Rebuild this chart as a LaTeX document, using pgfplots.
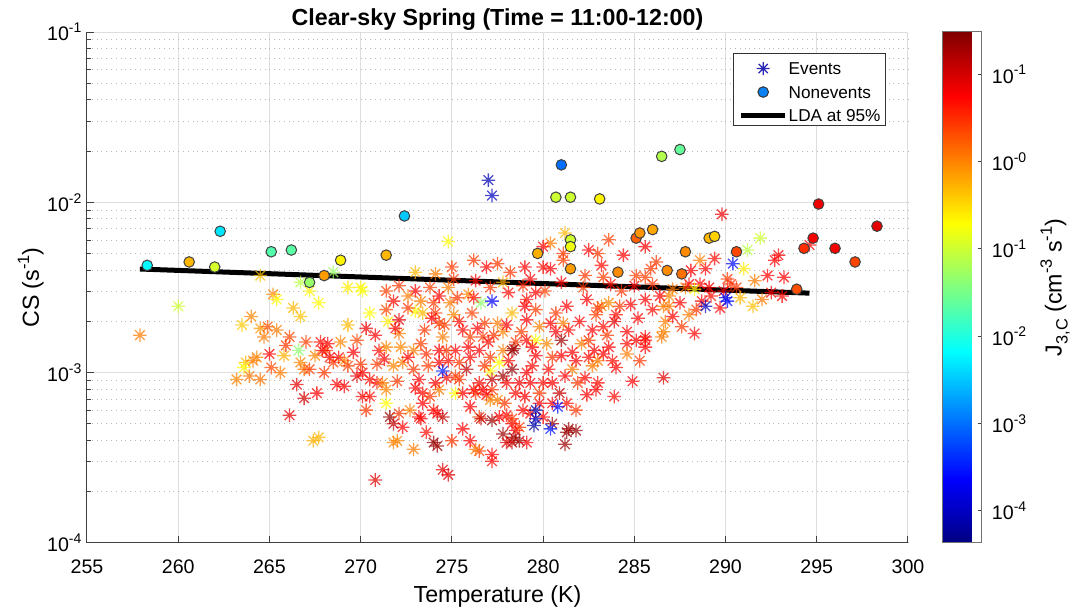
\documentclass[border=0pt]{standalone}
\usepackage{fontspec}
\setmainfont{Liberation Sans}
\usepackage{pgfplots}
\usepackage{pgfplotstable}
\pgfplotsset{compat=1.18}

% superscripts / subscripts in the MATLAB look
\newcommand\sups[1]{\raisebox{0.42em}{\fontsize{7}{8}\selectfont #1}}
\newcommand\lsups[1]{\raisebox{0.42em}{\fontsize{8.2}{9}\selectfont #1}}
\newcommand\lsubs[1]{\raisebox{-0.25em}{\fontsize{8.2}{9}\selectfont #1}}

% eight-armed asterisk (plus and cross)
\pgfdeclareplotmark{mstar}{%
  \pgfpathmoveto{\pgfqpoint{-\pgfplotmarksize}{0pt}}%
  \pgfpathlineto{\pgfqpoint{\pgfplotmarksize}{0pt}}%
  \pgfpathmoveto{\pgfqpoint{0pt}{-\pgfplotmarksize}}%
  \pgfpathlineto{\pgfqpoint{0pt}{\pgfplotmarksize}}%
  \pgfpathmoveto{\pgfqpoint{-0.7071\pgfplotmarksize}{-0.7071\pgfplotmarksize}}%
  \pgfpathlineto{\pgfqpoint{0.7071\pgfplotmarksize}{0.7071\pgfplotmarksize}}%
  \pgfpathmoveto{\pgfqpoint{-0.7071\pgfplotmarksize}{0.7071\pgfplotmarksize}}%
  \pgfpathlineto{\pgfqpoint{0.7071\pgfplotmarksize}{-0.7071\pgfplotmarksize}}%
  \pgfusepathqstroke}

\definecolor{evblue}{RGB}{40,40,180}
\definecolor{nevblue}{RGB}{10,130,245}

% T: temperature (K), l: log10(CS / s^-1), m: log10(J_3,C / cm^-3 s^-1)
\pgfplotstableread{
T l m
257.9 -2.78 0.05
260.0 -2.61 -1.0
264.5 -2.43 -0.35
265.2 -2.54 0.0
265.4 -2.57 -0.7
266.7 -2.47 -1.1
267.2 -2.52 -0.65
267.7 -2.59 -0.7
268.5 -2.41 -1.3
266.7 -2.67 -0.35
264.0 -2.67 0.0
263.5 -2.72 -0.4
264.5 -2.74 -0.1
264.9 -2.73 0.3
264.7 -2.79 0.05
266.1 -2.79 0.35
267.0 -2.82 0.4
266.6 -2.87 -1.35
267.8 -2.82 0.7
268.2 -2.83 0.75
268.1 -2.87 0.4
268.3 -2.91 0.8
268.9 -2.82 0.0
269.3 -2.72 -0.3
269.8 -2.81 0.35
270.3 -2.74 0.85
270.5 -2.65 -0.7
269.3 -2.50 -0.6
270.0 -2.50 -0.65
270.1 -2.52 -0.75
271.4 -2.52 0.4
271.8 -2.58 0.7
271.4 -2.63 0.35
271.5 -2.70 -0.6
271.0 -2.87 0.7
271.4 -2.85 0.0
263.7 -2.94 -0.3
263.6 -2.97 -0.7
264.1 -2.93 0.05
263.2 -3.04 0.0
263.9 -3.02 0.1
264.5 -3.04 0.1
265.0 -2.89 0.75
265.1 -2.97 0.35
265.6 -3.00 0.05
265.8 -2.90 -0.25
266.7 -2.94 0.0
266.9 -2.98 0.1
267.2 -2.98 0.4
266.5 -3.07 0.9
266.9 -3.15 1.0
266.1 -3.25 0.9
267.4 -3.40 -0.25
267.7 -3.38 -0.3
268.5 -2.94 0.4
268.8 -2.91 0.7
269.1 -2.93 0.05
269.3 -2.96 0.4
268.7 -3.07 0.75
269.8 -3.02 0.9
270.1 -3.00 0.75
270.5 -3.04 0.7
270.9 -3.06 0.7
271.2 -3.06 0.05
270.1 -3.14 0.75
270.5 -3.14 0.7
270.3 -3.22 0.45
271.4 -3.10 0.0
271.4 -3.18 -0.7
271.6 -3.26 1.35
271.8 -3.41 0.0
270.8 -3.63 0.9
264.3 -2.91 0.0
267.9 -2.87 0.75
267.5 -2.90 0.0
274.8 -2.23 -0.7
276.2 -2.34 0.45
276.9 -2.38 0.75
275.0 -2.38 0.4
273.0 -2.41 -0.3
272.1 -2.49 0.45
273.8 -2.50 0.4
274.8 -2.50 0.05
275.9 -2.54 0.0
277.1 -2.50 0.45
277.8 -2.47 -0.25
278.1 -2.53 0.7
278.9 -2.49 0.5
279.6 -2.53 0.75
280.0 -2.38 0.7
280.4 -2.24 0.05
281.2 -2.18 -0.3
280.0 -2.26 0.75
281.1 -2.30 0.45
281.1 -2.34 0.4
282.5 -2.28 0.75
283.6 -2.22 0.4
283.2 -2.37 0.7
282.3 -2.43 0.45
283.3 -2.44 0.4
285.1 -2.43 0.4
285.6 -2.26 0.75
272.1 -2.69 0.9
273.3 -2.58 0.05
273.0 -2.64 -0.7
273.4 -2.65 -0.3
274.0 -2.59 0.4
274.1 -2.65 0.45
274.9 -2.59 0.05
275.1 -2.66 0.0
276.1 -2.65 0.4
276.6 -2.59 -1.35
277.5 -2.71 0.05
277.8 -2.76 0.0
276.8 -2.71 0.4
276.7 -2.79 0.45
275.6 -2.75 0.7
276.0 -2.79 0.4
274.3 -2.71 0.4
274.5 -2.79 0.05
274.3 -2.87 0.75
273.5 -2.75 0.45
273.3 -2.83 0.4
273.6 -2.89 0.5
272.1 -2.77 0.05
272.2 -2.85 0.0
271.3 -2.92 0.75
272.9 -2.87 0.05
275.2 -2.87 0.75
275.4 -2.94 0.45
276.0 -2.91 0.7
275.8 -2.98 1.1
276.5 -2.87 0.75
277.1 -2.91 0.45
277.8 -2.87 0.05
277.6 -2.94 -0.7
278.3 -2.87 1.35
278.5 -2.82 0.45
279.1 -2.81 0.75
279.6 -2.81 -0.7
279.8 -2.73 0.05
279.1 -2.69 0.75
279.6 -2.63 0.4
280.4 -2.71 0.75
280.7 -2.65 0.45
281.3 -2.61 0.75
281.1 -2.71 0.05
281.4 -2.75 0.7
280.7 -2.76 0.75
280.2 -2.83 0.0
281.0 -2.81 1.3
281.0 -2.90 0.75
280.5 -2.91 0.45
282.1 -2.83 0.05
282.5 -2.81 0.45
282.8 -2.87 0.75
283.0 -2.93 0.05
282.7 -2.75 0.75
283.3 -2.73 0.7
282.4 -2.57 0.75
283.2 -2.61 0.05
283.6 -2.59 0.0
284.2 -2.61 0.45
284.8 -2.60 0.75
285.6 -2.57 0.75
286.0 -2.63 0.7
286.6 -2.61 0.05
283.9 -2.70 0.9
284.6 -2.76 0.75
284.6 -2.83 0.7
285.1 -2.81 0.75
285.6 -2.81 0.7
284.6 -2.89 0.05
286.6 -2.76 0.0
286.7 -2.70 0.05
287.1 -2.67 0.75
286.6 -3.03 0.9
283.6 -2.85 0.75
283.8 -2.93 0.7
283.3 -2.89 0.75
282.3 -3.03 0.75
283.0 -3.06 0.7
282.9 -3.10 0.8
282.4 -3.13 0.75
281.6 -2.98 0.05
281.2 -3.02 0.75
280.5 -3.06 0.75
280.0 -3.06 0.7
279.8 -3.12 0.45
280.5 -3.18 0.75
281.3 -3.18 0.7
279.6 -2.90 0.75
279.4 -2.96 0.7
279.1 -3.00 0.75
278.7 -3.06 0.8
279.3 -3.06 0.75
278.5 -3.12 0.7
278.3 -2.98 1.35
278.0 -3.06 0.75
277.2 -3.10 0.45
276.9 -3.13 0.75
276.5 -3.06 0.7
276.3 -3.12 0.45
277.5 -3.16 0.05
277.1 -3.16 0.0
276.5 -3.26 0.45
277.2 -3.28 1.35
277.8 -3.36 1.3
278.0 -3.41 0.95
278.5 -3.34 0.75
278.7 -3.40 1.35
279.1 -3.41 0.75
278.7 -3.32 0.45
278.3 -3.30 0.75
281.3 -3.35 1.35
281.2 -3.42 1.3
280.5 -3.30 1.3
279.8 -3.18 0.75
279.3 -3.24 0.7
276.5 -3.46 0.45
277.2 -3.48 0.75
277.2 -3.52 0.7
274.5 -3.57 0.9
274.8 -3.60 0.9
274.0 -3.41 1.35
274.2 -3.43 1.3
272.9 -3.45 0.05
272.0 -3.40 0.0
273.2 -3.26 0.75
272.7 -3.22 0.05
272.1 -3.24 0.45
272.3 -3.32 0.75
271.8 -3.30 1.1
273.4 -3.18 0.75
274.0 -3.22 0.7
274.2 -3.24 0.75
274.5 -3.26 1.1
275.2 -3.12 -0.7
275.6 -3.12 0.75
276.2 -3.10 0.7
276.7 -3.10 0.75
275.4 -3.04 0.45
275.2 -3.02 0.4
272.9 -2.98 0.45
272.3 -2.94 0.05
271.8 -2.96 0.0
273.2 -3.04 0.75
273.4 -3.12 0.7
273.8 -3.14 0.45
274.3 -3.10 0.05
274.1 -3.06 0.75
274.3 -2.94 0.75
274.7 -2.87 0.45
277.1 -2.99 -0.7
277.2 -3.04 1.1
277.8 -3.02 1.3
278.4 -2.86 1.3
276.6 -3.27 1.1
277.6 -3.26 0.75
278.0 -3.25 0.7
278.3 -3.27 0.45
278.4 -3.38 1.35
278.3 -3.41 1.1
276.3 -3.45 0.05
273.3 -3.27 0.75
281.4 -3.33 1.3
281.8 -3.34 1.35
281.8 -2.93 0.75
282.5 -2.91 0.7
282.7 -2.96 0.05
285.6 -2.85 0.75
280.4 -2.39 0.75
279.0 -2.61 0.75
279.1 -2.57 0.7
278.3 -2.65 -0.3
283.0 -2.62 0.45
289.8 -2.07 0.85
288.6 -2.34 0.05
288.9 -2.39 0.75
285.9 -2.39 0.45
285.6 -2.44 0.4
286.0 -2.48 0.45
291.0 -2.39 -0.6
291.2 -2.28 -1.1
291.9 -2.21 -1.0
292.9 -2.31 0.8
292.7 -2.34 0.75
293.2 -2.44 0.75
294.6 -2.25 0.75
290.1 -2.45 0.45
290.3 -2.48 0.5
290.6 -2.50 0.45
290.8 -2.56 -0.3
291.5 -2.61 -0.35
292.0 -2.57 0.05
292.5 -2.53 0.75
293.1 -2.55 0.75
288.6 -2.48 0.75
289.1 -2.50 0.75
289.2 -2.55 0.7
287.8 -2.50 0.05
288.0 -2.48 0.75
288.3 -2.51 -0.7
287.1 -2.51 0.05
286.9 -2.55 0.0
286.4 -2.55 0.75
286.9 -2.61 0.05
288.0 -2.66 0.05
288.4 -2.63 0.45
289.7 -2.62 0.75
288.7 -2.58 0.75
288.3 -2.77 0.75
286.5 -2.79 0.05
285.6 -2.79 0.7
272.6 -2.62 0.45
273.9 -2.68 0.75
274.6 -2.72 0.4
275.4 -2.70 0.7
276.4 -2.74 0.75
277.3 -2.78 0.45
278.0 -2.72 0.75
278.8 -2.76 0.4
279.4 -2.85 0.75
278.1 -2.93 0.7
276.8 -2.96 0.45
275.9 -2.85 0.75
274.8 -2.93 0.7
273.7 -2.96 0.4
272.6 -2.91 0.75
272.0 -3.05 0.45
273.0 -3.09 0.75
274.7 -3.03 0.7
276.0 -3.20 0.75
277.9 -3.18 0.45
279.0 -3.14 0.75
280.3 -2.98 0.7
281.9 -3.06 0.45
282.0 -2.70 0.75
282.9 -2.66 0.4
284.0 -2.66 0.7
285.2 -2.68 0.75
284.3 -2.52 0.45
285.0 -2.49 0.75
283.7 -2.48 0.7
282.2 -2.50 0.45
281.0 -2.47 0.75
280.1 -2.52 0.4
279.3 -2.45 0.75
278.2 -2.41 0.45
276.3 -2.46 0.7
275.1 -2.45 0.45
274.1 -2.42 0.05
273.0 -2.52 0.75
272.6 -2.55 0.05
269.6 -2.88 0.75
270.0 -2.95 0.45
269.1 -3.08 0.75
268.0 -3.00 0.45
267.6 -3.12 0.75
265.9 -2.84 0.45
265.4 -2.75 0.05
266.3 -2.62 -0.3
270.8 -2.78 0.75
270.9 -2.95 0.45
271.9 -2.74 0.75
284.0 -2.97 0.75
285.3 -2.93 0.45
284.9 -3.05 0.75
283.9 -3.14 0.7
280.9 -3.12 1.1
280.0 -3.26 0.75
281.8 -3.22 0.45
278.9 -3.22 0.75
275.6 -3.33 0.75
275.0 -3.40 0.45
276.0 -3.40 0.75
273.6 -3.35 0.7
287.5 -2.59 0.75
287.6 -2.73 0.45
289.9 -2.52 0.75
291.6 -2.46 0.05
292.3 -2.43 0.75
286.2 -2.35 0.45
284.4 -2.31 0.75
283.0 -2.30 0.45
279.0 -2.38 0.75
277.5 -2.36 0.45
288.1 -2.40 0.75
289.4 -2.33 0.7
274.3 -2.55 0.75
275.3 -2.56 0.45
276.2 -2.56 0.7
283.5 -2.78 0.45
281.6 -2.88 0.75
277.0 -2.82 0.7
277.0 -1.87 -4.1
277.2 -1.96 -4.0
277.2 -2.58 -3.7
274.5 -2.99 -3.5
279.6 -3.22 -4.1
280.8 -3.20 -3.6
279.5 -3.31 -4.2
280.4 -3.33 -3.5
279.6 -3.27 -4.0
290.4 -2.36 -3.6
290.0 -2.56 -3.8
290.1 -2.58 -3.6
288.9 -2.61 -4.0
}\events

\pgfplotstableread{
T l m
258.3 -2.37 -2.2
260.6 -2.35 -0.3
262.0 -2.38 -0.95
262.3 -2.17 -2.32
265.1 -2.29 -1.7
266.2 -2.28 -1.65
267.2 -2.47 -1.3
268.0 -2.43 -0.15
268.9 -2.34 -0.65
271.4 -2.31 -0.3
272.4 -2.08 -2.49
279.7 -2.30 -0.25
281.5 -2.22 -1.0
281.5 -2.26 -0.8
281.5 -2.39 -0.15
284.1 -2.41 -0.05
285.1 -2.21 0.2
285.3 -2.18 -0.1
286.0 -2.16 -0.2
289.1 -2.21 -0.3
289.4 -2.20 -0.45
287.8 -2.29 -0.05
286.8 -2.40 -0.05
287.6 -2.42 0.1
290.6 -2.29 0.35
293.9 -2.51 0.3
294.3 -2.27 0.5
294.8 -2.21 0.8
295.1 -2.01 0.85
296.0 -2.27 0.8
297.1 -2.35 0.35
298.3 -2.14 0.9
281.0 -1.78 -3.0
280.7 -1.97 -1.0
281.5 -1.97 -1.0
283.1 -1.98 -0.65
286.5 -1.73 -1.15
287.5 -1.69 -1.6
}\nonevents

\begin{document}
\begin{tikzpicture}
\begin{axis}[
  scale only axis, width=410.5pt, height=255.5pt,
  xmin=255, xmax=300, ymin=1e-4, ymax=1e-1, ymode=log,
  xtick={255,260,...,300},
  ytick={1e-4,1e-3,1e-2,1e-1},
  yticklabels={10\sups{-4},10\sups{-3},10\sups{-2},10\sups{-1}},
  axis x line*=bottom, axis y line*=left,
  axis line style={black!75, line width=0.5pt},
  tick align=inside,
  major tick length=3.5pt, minor tick length=2pt,
  tick style={black!75, line width=0.5pt},
  xmajorgrids, ymajorgrids, yminorgrids,
  major grid style={black!13, line width=0.5pt},
  minor grid style={black!28, dotted, line width=0.5pt},
  tick label style={font=\fontsize{9.8}{11}\selectfont},
  xticklabel style={anchor=north, inner sep=0pt, yshift=-8.3pt},
  yticklabel style={anchor=east, inner sep=0pt, xshift=-2.6pt},
  /pgf/number format/assume math mode=true,
  xlabel={Temperature (K)},
  ylabel={CS (s\lsups{-1})},
  label style={font=\fontsize{11.6}{13}\selectfont},
  xlabel style={at={(axis description cs:0.5,-0.116)}, anchor=base, inner sep=0pt},
  ylabel style={at={(axis description cs:-0.0585,0.5)}, anchor=base, inner sep=0pt},
  title={Clear-sky Spring (Time = 11:00-12:00)},
  title style={font=\bfseries\fontsize{11.6}{13}\selectfont, at={(axis description cs:0.5,0.989)}, anchor=base, inner sep=0pt},
  colormap/jet,
  point meta min=-4.369, point meta max=1.484,
  colorbar,
  colorbar style={
    at={(parent axis.north east)}, anchor=north west, xshift=8.96pt,
    scale only axis, width=19.5pt, height=255.5pt,
    ytick={-4,-3,-2,-1,0,1},
    yticklabels={10\sups{-4},10\sups{-3},10\sups{-2},10\sups{-1},10\sups{-0},10\sups{-1}},
    yticklabel pos=right, ytick pos=right,
    tick align=inside, major tick length=2pt,
    tick style={black!75, line width=0.5pt},
    axis line style={black!55, line width=0.5pt},
    xmajorgrids=false, ymajorgrids=false, yminorgrids=false,
    yticklabel style={font=\fontsize{9.8}{11}\selectfont, anchor=west, inner sep=0pt, xshift=4.8pt},
    ylabel={J\lsubs{3,C} (cm\lsups{-3} s\lsups{-1})},
    ylabel style={font=\fontsize{11.6}{13}\selectfont, at={(axis description cs:3.044,0.5)}, anchor=base, inner sep=0pt},
  },
  legend cell align=left,
  legend style={at={(axis description cs:0.9732,0.9589)}, anchor=north east,
    draw=black!80, line width=0.5pt, fill=white,
    font=\fontsize{8.6}{10}\selectfont,
    inner xsep=2.5pt, inner ysep=0.3pt, column sep=0.5pt, row sep=0pt,
    nodes={inner sep=0pt, text height=10.3pt, text depth=1.45pt},
    cells={anchor=base west}},
]
% events
\addplot[scatter, only marks, mark=mstar, mark size=3.4pt, line width=0.65pt,
  scatter/use mapped color={draw=mapped color, draw opacity=0.72},
  point meta=explicit, forget plot]
  table[x=T, y expr={pow(10,\thisrow{l})}, meta=m] {\events};
% nonevents
\addplot[scatter, only marks, mark=*, mark size=2.65pt, line width=0.5pt,
  scatter/use mapped color={draw=black!75, fill=mapped color},
  point meta=explicit, forget plot]
  table[x=T, y expr={pow(10,\thisrow{l})}, meta=m] {\nonevents};
% detection limit
\addplot[black, line width=2.5pt, forget plot]
  coordinates {(257.9,4.06e-3) (294.6,2.93e-3)};

\addlegendimage{legend image code/.code={\draw[evblue, line width=0.6pt] plot[only marks, mark=mstar, mark size=3.25pt] coordinates {(11pt,3.08pt)};}}
\addlegendentry{Events}
\addlegendimage{legend image code/.code={\draw[black!80, fill=nevblue, line width=0.5pt] (11pt,3.08pt) circle[radius=2.65pt];}}
\addlegendentry{Nonevents}
\addlegendimage{legend image code/.code={\draw[black, line width=2.5pt] (0pt,3.08pt) -- (22pt,3.08pt);}}
\addlegendentry{LDA at 95\%}
\end{axis}
\pgfresetboundingbox
\path (-43.5pt,-35pt) rectangle (493pt,271.5pt);
\end{tikzpicture}
\end{document}
